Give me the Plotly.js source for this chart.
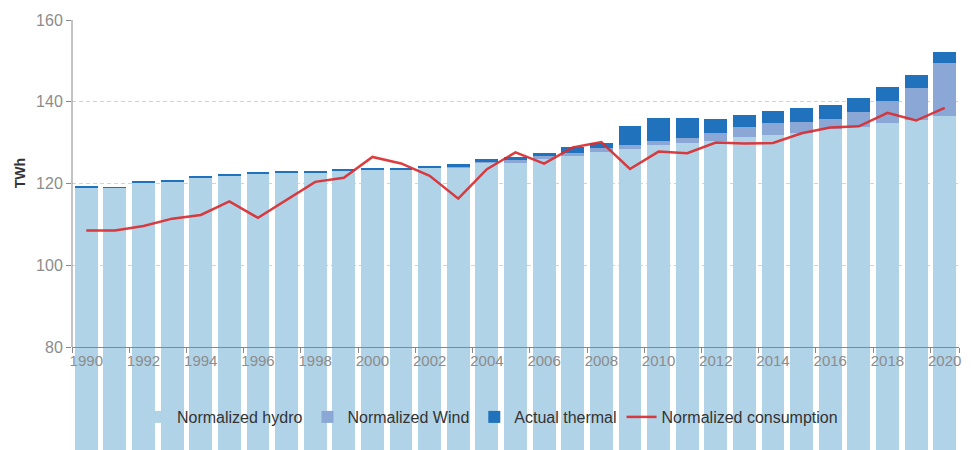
<!DOCTYPE html>
<html>
<head>
<meta charset="utf-8">
<script src="https://cdn.plot.ly/plotly-3.0.1.min.js"></script>
<style>html,body{margin:0;padding:0;background:#fff;}#chart{width:980px;height:450px;}</style>
</head>
<body>
<div id="chart"></div>
<script>
const years = [1990,1991,1992,1993,1994,1995,1996,1997,1998,1999,2000,2001,2002,2003,2004,2005,2006,2007,2008,2009,2010,2011,2012,2013,2014,2015,2016,2017,2018,2019,2020];
const hydro = [119.0,118.9,120.1,120.4,121.35,121.75,122.25,122.5,122.5,123.0,123.2,123.2,123.7,123.9,124.9,125.1,125.9,126.8,127.8,128.4,129.5,130.0,130.4,131.4,131.9,132.35,133.4,133.9,134.8,135.5,136.5];
const wind = [0,0,0,0,0,0,0,0,0.05,0.05,0.1,0.1,0.15,0.1,0.3,0.65,0.75,0.65,1.0,1.1,0.9,1.15,1.95,2.35,3.0,2.65,2.4,3.6,5.4,7.9,13.0];
const thermal = [0.5,0.3,0.5,0.45,0.55,0.55,0.55,0.5,0.5,0.45,0.5,0.5,0.45,0.8,0.8,0.75,0.85,1.45,1.1,4.65,5.6,4.85,3.45,3.0,2.8,3.5,3.4,3.4,3.4,3.1,2.7];
const consumption = [108.5,108.5,109.6,111.4,112.3,115.6,111.6,116.0,120.4,121.4,126.5,124.9,121.9,116.3,123.5,127.6,124.85,128.85,130.1,123.55,127.8,127.4,130.0,129.8,129.9,132.3,133.7,134.0,137.3,135.4,138.5];
const labelYears = years.filter(y => y % 2 === 0);
const yTicks = [80,100,120,140,160];

const yMin = 54.8, yMax = 160, yBase = 80;
const tickBounds = labelYears.map(y => y - 0.5).concat([years[years.length-1] + 0.5]);

const traces = [
  {type:'bar', name:'Normalized hydro', x:years, y:hydro, marker:{color:'#b1d3e8', line:{width:0}}, hoverinfo:'skip'},
  {type:'bar', name:'Normalized Wind', x:years, y:wind, marker:{color:'#8aa7d5', line:{width:0}}, hoverinfo:'skip'},
  {type:'bar', name:'Actual thermal', x:years, y:thermal, marker:{color:'#2072bc', line:{width:0}}, hoverinfo:'skip'},
  {type:'scatter', mode:'lines', name:'Normalized consumption', x:years, y:consumption, line:{color:'rgba(217,45,48,0.92)', width:2.5}, hoverinfo:'skip'}
];

const layout = {
  width:980, height:450,
  margin:{l:72, r:21, t:20, b:0, autoexpand:false},
  paper_bgcolor:'#fff', plot_bgcolor:'#fff',
  barmode:'stack', bargap:0.2,
  font:{family:'"Liberation Sans", Arial, sans-serif', color:'#333'},
  showlegend:true,
  legend:{orientation:'h', x:(490-72)/887, xanchor:'center', y:(450-417)/430, yanchor:'middle', bgcolor:'rgba(0,0,0,0)', font:{size:16, color:'#333'}, traceorder:'normal'},
  xaxis:{
    range:[years[0]-0.5, years[years.length-1]+0.5],
    tickmode:'array', tickvals:labelYears, ticktext:labelYears.map(String),
    ticks:'', showgrid:false, zeroline:false, tickangle:0,
    showline:true, linecolor:'#888', linewidth:1,
    anchor:'free', position:(yBase-yMin)/(yMax-yMin),
    tickfont:{size:15, color:'#8c8c8c'}, automargin:false,
    minor:{tickmode:'array', tickvals:tickBounds, ticks:'outside', ticklen:5, tickcolor:'#888', tickwidth:1, showgrid:false}
  },
  yaxis:{
    range:[yMin, yMax],
    tickmode:'array', tickvals:yTicks, ticktext:yTicks.map(String),
    ticks:'outside', ticklen:5, tickcolor:'#888', tickwidth:1,
    showgrid:true, gridcolor:'#d3d3d3', griddash:'4px,3px', gridwidth:1,
    zeroline:false, showline:false,
    tickfont:{size:16, color:'#8c8c8c'}, automargin:false
  },
  shapes:[
    {type:'line', xref:'paper', yref:'y', x0:0, x1:0, y0:yBase, y1:yMax, line:{color:'#888', width:1}}
  ],
  annotations:[
    {text:'<b>TWh</b>', xref:'paper', yref:'y', x:0, y:122.5, xshift:-62, textangle:-90, showarrow:false, font:{size:14, color:'#333'}}
  ]
};

Plotly.newPlot('chart', traces, layout, {displayModeBar:false, staticPlot:true});
</script>
</body>
</html>
